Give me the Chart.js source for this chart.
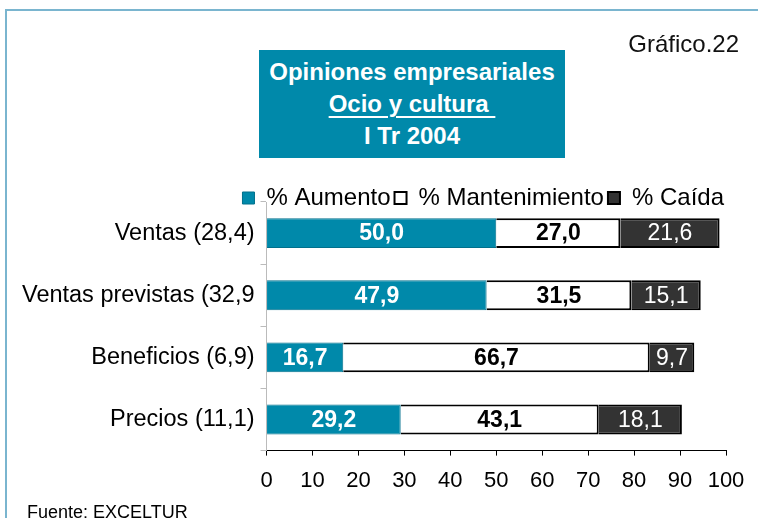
<!DOCTYPE html>
<html lang="es">
<head>
<meta charset="UTF-8">
<title>Opiniones empresariales - Ocio y cultura</title>
<script src="https://cdn.jsdelivr.net/npm/chart.js"></script>
<style>
    body { margin: 0; background: #fff; font-family: 'Liberation Sans', Arial, sans-serif; }
    #lienzo { position: relative; width: 758px; height: 518px; overflow: hidden; }
    #grafico { position: absolute; left: 0; top: 0; }
    .marco-top { position: absolute; left: 5px; top: 9px; width: 753px; height: 2px; background: #7ab5cf; }
    .marco-left { position: absolute; left: 5px; top: 9px; width: 2px; height: 509px; background: #7ab5cf; }
    .titulo {
        position: absolute; left: 259px; top: 50px; width: 306px; height: 108px;
        background: #0089aa; color: #fff; font-weight: bold; font-size: 24px;
        line-height: 32px; text-align: center; padding-top: 6px; box-sizing: border-box;
    }
    .titulo u { text-underline-offset: 4px; text-decoration-thickness: 2px; }
    .numero { position: absolute; right: 19px; top: 32px; font-size: 24px; line-height: 24px; color: #111; }
    .fuente { position: absolute; left: 27px; top: 503px; font-size: 18px; line-height: 18px; color: #000; }
</style>
</head>
<body>
<div id="lienzo">
    <canvas id="grafico" width="758" height="518"></canvas>
    <div class="marco-top"></div>
    <div class="marco-left"></div>
    <div class="numero">Gráfico.22</div>
    <div class="titulo">Opiniones empresariales<br><u>Ocio y cultura&nbsp;</u><br>I Tr 2004</div>
    <div class="fuente">Fuente: EXCELTUR</div>
</div>

<script>
    // datos
    const categorias = ['Ventas (28,4)', 'Ventas previstas (32,9', 'Beneficios (6,9)', 'Precios (11,1)'];
    const aumento = [50.0, 47.9, 16.7, 29.2];
    const mantenimiento = [27.0, 31.5, 66.7, 43.1];
    const caida = [21.6, 15.1, 9.7, 18.1];
    const ticksX = [0, 10, 20, 30, 40, 50, 60, 70, 80, 90, 100];

    const azul = '#0089aa';
    const oscuro = '#333333';

    Chart.defaults.font.family = "'Liberation Sans', Arial, sans-serif";
    Chart.defaults.color = '#000';

    // etiquetas de valor dentro de cada tramo
    const etiquetas = {
        id: 'etiquetas',
        afterDatasetsDraw(chart) {
            const ctx = chart.ctx;
            const estilos = [
                { color: '#fff', weight: 'bold' },
                { color: '#000', weight: 'bold' },
                { color: '#fff', weight: 'normal' }
            ];
            chart.data.datasets.forEach((ds, i) => {
                const meta = chart.getDatasetMeta(i);
                meta.data.forEach((bar, j) => {
                    const v = ds.data[j];
                    ctx.save();
                    ctx.font = estilos[i].weight + " 23px 'Liberation Sans', Arial, sans-serif";
                    ctx.fillStyle = estilos[i].color;
                    ctx.textAlign = 'center';
                    ctx.textBaseline = 'middle';
                    ctx.fillText(v.toFixed(1).replace('.', ','), (bar.x + bar.base) / 2, bar.y + 1);
                    ctx.restore();
                });
            });
        }
    };

    // la leyenda va pegada al area del grafico, casi encima de la primera barra
    const moverLeyenda = {
        id: 'moverLeyenda',
        afterLayout(chart) {
            const l = chart.legend;
            if (!l) return;
            l.top += 18;
            l.bottom += 18;
            l.left += 2;
            l.right += 2;
        }
    };

    new Chart(document.getElementById('grafico'), {
        type: 'bar',
        data: {
            labels: categorias,
            datasets: [
                { label: '% Aumento', data: aumento, backgroundColor: azul, borderColor: '#00708c', borderWidth: 1 },
                { label: '% Mantenimiento', data: mantenimiento, backgroundColor: '#ffffff', borderColor: '#000', borderWidth: 2 },
                { label: '% Caída', data: caida, backgroundColor: oscuro, borderColor: '#000', borderWidth: 2 }
            ]
        },
        options: {
            indexAxis: 'y',
            responsive: false,
            animation: false,
            layout: { padding: { left: 16, right: 32, top: 164, bottom: 12 } },
            datasets: { bar: { categoryPercentage: 1, barPercentage: 0.48 } },
            scales: {
                x: {
                    stacked: true,
                    min: 0,
                    max: 100,
                    afterBuildTicks: (s) => { s.ticks = ticksX.map(v => ({ value: v })); },
                    grid: { drawOnChartArea: false, tickLength: 5, color: '#000' },
                    border: { color: '#000', width: 1 },
                    ticks: { font: { size: 22 }, padding: 12, color: '#000' }
                },
                y: {
                    stacked: true,
                    grid: { drawOnChartArea: false, tickLength: 6, color: '#bbbbbb', offset: true },
                    border: { color: '#bbbbbb', width: 1 },
                    ticks: { font: { size: 23.5 }, padding: 6, color: '#000' }
                }
            },
            plugins: {
                tooltip: { enabled: false },
                legend: {
                    position: 'top',
                    align: 'end',
                    labels: {
                        boxWidth: 12,
                        boxHeight: 12,
                        padding: 4,
                        color: '#000',
                        font: { size: 24 }
                    }
                }
            }
        },
        plugins: [etiquetas, moverLeyenda]
    });
</script>
</body>
</html>
